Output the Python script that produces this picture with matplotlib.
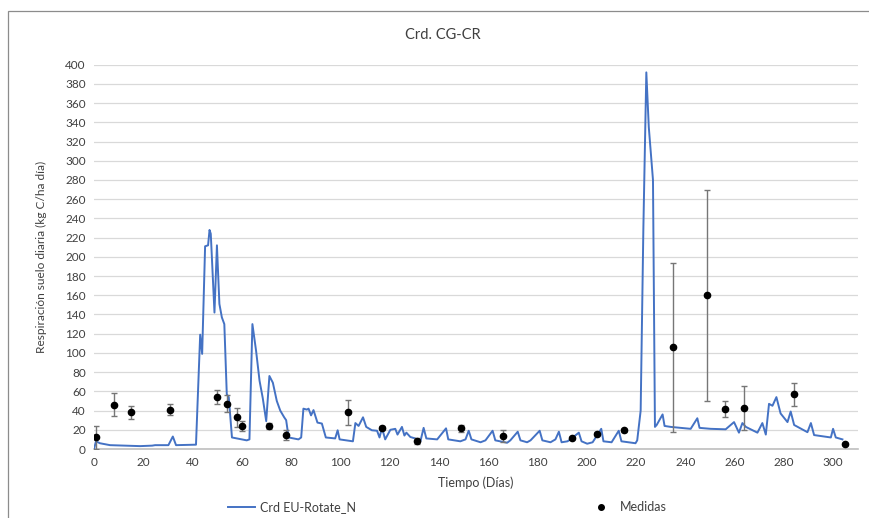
import numpy as np
import matplotlib.pyplot as plt
from matplotlib.patches import Rectangle
from matplotlib.lines import Line2D

plt.rcParams['font.family'] = ['Lato', 'DejaVu Sans']

# Simulated daily soil respiration
model_days = [0, 0.8, 2.4, 6.5, 18.7, 23.6, 24.8, 30.2, 32, 33.3, 41.4, 43.1, 43.9, 45.1,
              46.3, 46.9, 47.4, 48.9, 49.9, 50.9, 51.9, 52.9, 53.9, 54.7, 56, 62, 63.1,
              64.3, 65.8, 67.2, 68.5, 69.9, 71.2, 72.6, 74.2, 75.6, 77.2, 78, 79, 83,
              84.1, 85, 86.4, 87.1, 88.1, 89.1, 90.7, 92.5, 94.1, 97.9, 98.9, 99.7,
              105.1, 106.1, 107.4, 109.2, 110.5, 112.8, 114.9, 115.9, 116.9, 118.2,
              120.3, 122.3, 123.2, 125, 126, 126.8, 128.4, 130.4, 132.5, 133.8, 134.9,
              139.3, 142.9, 143.8, 148.7, 150.8, 152.1, 153.2, 156.9, 158.9, 161.8,
              162.9, 167.7, 169, 172, 173.1, 175.8, 177.2, 180.9, 182, 185.3, 187.3,
              188.7, 189.8, 192.2, 193.4, 196.8, 197.9, 200.2, 202.4, 205.9, 206.8,
              210.1, 213, 214.1, 219.8, 220.5, 221.9, 223, 224.2, 225.2, 226.9, 227.7,
              228.4, 230.8, 231.6, 234.1, 238.1, 242.2, 244.9, 245.8, 250.3, 256.4,
              259.8, 261.8, 263.2, 264.6, 269.3, 271.3, 272.7, 274, 275.4, 277, 278.7,
              281.5, 282.8, 284.2, 289.6, 291, 292.3, 299.1, 300, 301.1, 303.8]
model_vals = [0, 8, 6, 4, 3, 3.5, 4, 4, 13, 4, 4.5, 119, 99, 211,
              212, 228, 224, 142, 212, 151, 137, 130, 57, 54, 12, 9, 10,
              130, 102, 71, 53, 29, 76, 69, 50, 40, 33, 30, 12, 10,
              12, 42, 41, 42, 35, 40.5, 27.5, 26.5, 12, 11, 19.5, 10,
              8, 27, 24, 33, 23, 19.5, 19, 12, 22, 10,
              20, 21, 15, 23, 14, 17, 12.5, 11, 8, 22, 11,
              10, 21.5, 10, 8, 10, 19, 10, 7, 9, 19,
              9, 6.5, 9, 18, 9, 7, 9, 19, 9, 7, 10,
              18, 7, 8, 10, 17, 8, 5.5, 7, 21, 8,
              7, 19, 8, 6, 9, 40, 230, 392, 335, 280, 23,
              25, 36, 24, 23, 22, 21, 32, 22, 21, 20.5,
              28, 17, 27, 23, 17, 27, 15, 47, 45, 54, 37,
              28, 39, 25, 17.5, 27, 14.5, 12, 21, 12, 10]

# Measured values with error
meas_days = [1, 8, 15, 31, 50, 54, 58, 60, 71, 78, 103, 117, 131, 149, 166, 194, 204,
             215, 235, 249, 256, 264, 284, 305]
meas_vals = [12, 46, 38, 41, 54, 47, 33, 24, 24, 14.5, 38.5, 21.5, 8.5, 21.5, 13.5,
             11.5, 16, 19.5, 106, 160, 41.5, 43, 57, 5.5]
meas_err = [11.5, 12, 6.5, 6, 7, 9, 10, 5, 3, 5, 13, 2, 3, 4, 6,
            1.5, 1.5, 1.5, 88, 110, 8, 23, 12, 1]

txt = '#404040'

fig = plt.figure(figsize=(8.69, 5.18), dpi=100)
ax = fig.add_axes([94 / 869, 1 - 449 / 518, (857.7 - 94) / 869, (449 - 64.7) / 518])

fig.patches.append(Rectangle((8 / 869, -0.1), 1.2, 1 - 11 / 518 + 0.1,
                             transform=fig.transFigure, fill=False,
                             edgecolor='#8c8c8c', lw=0.9))

ax.plot(model_days, model_vals, color='#4472C4', lw=1.4, zorder=3)
ax.errorbar(meas_days, meas_vals, yerr=meas_err, fmt='o', color='black', ms=4.5,
            ecolor='#767676', elinewidth=1, capsize=2.5, capthick=1, zorder=4)

ax.set_xlim(0, 310)
ax.set_ylim(0, 400)
ax.set_xticks(np.arange(0, 301, 20))
ax.set_yticks(np.arange(0, 401, 20))
ax.grid(axis='y', color='#D9D9D9', lw=0.9)
ax.set_axisbelow(True)
for s in ['top', 'right', 'left']:
    ax.spines[s].set_visible(False)
ax.spines['bottom'].set_color('#BFBFBF')
ax.spines['bottom'].set_linewidth(1.2)
ax.tick_params(length=0, labelsize=8.5, labelcolor=txt, pad=6)

ax.set_xlabel('Tiempo (Días)', fontsize=9, color=txt, labelpad=6)
ax.set_ylabel('Respiración suelo diaria (kg C/ha día)', fontsize=8.6, color=txt, labelpad=13)
fig.text(443 / 869, 1 - 35 / 518, 'Crd. CG-CR', ha='center', va='center',
         fontsize=10.5, color=txt)

handles = [Line2D([], [], color='#4472C4', lw=1.4),
           Line2D([], [], color='black', marker='o', ms=4, lw=0)]
fig.legend(handles, ['Crd EU-Rotate_N', 'Medidas'], loc='center',
           bbox_to_anchor=(0.515, 1 - 507 / 518), ncol=2, frameon=False,
           fontsize=9, columnspacing=18.5, handlelength=2.2, handletextpad=0.4,
           labelcolor=txt)

fig.savefig('out.png', dpi=100)
